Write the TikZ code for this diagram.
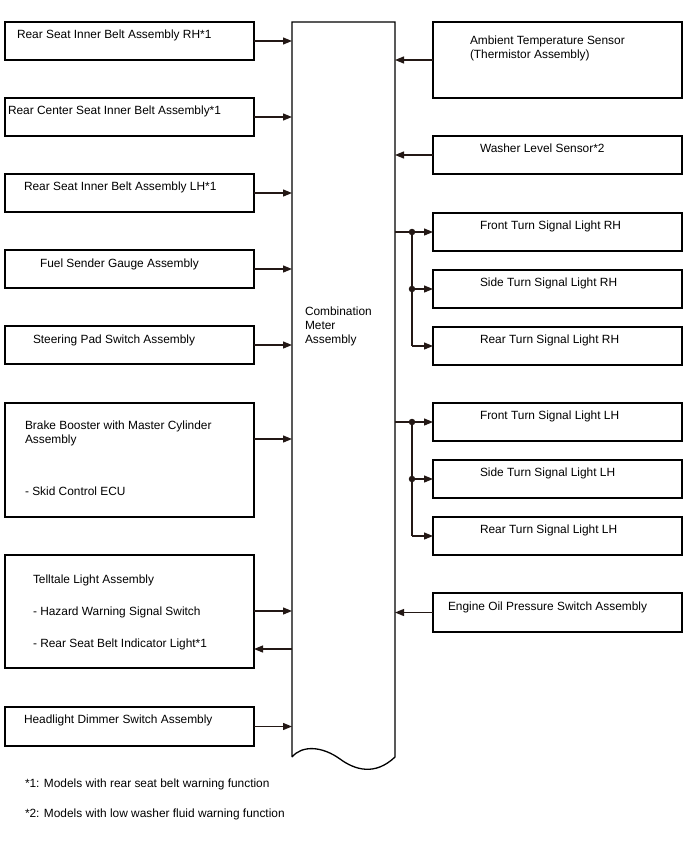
\documentclass[tikz,border=0pt]{standalone}
\usepackage{fontspec}
\setmainfont{Liberation Sans}
\usetikzlibrary{arrows.meta,calc}
\definecolor{ln}{HTML}{231815}
\tikzset{
  box/.style={draw=black, line width=1.3bp, anchor=north west, inner sep=0pt, outer sep=0pt},
  lbox/.style={box, minimum width=249bp},
  rbox/.style={box, minimum width=249bp},
  txt/.style={anchor=base west, inner sep=0pt, outer sep=0pt, font=\fontsize{11.9bp}{14bp}\selectfont},
  conn/.style={draw=ln, line width=1.2bp, -{Triangle[length=9bp,width=7bp]}},
  plain/.style={draw=ln, line width=1.2bp},
  dot/.style={circle, fill=ln, inner sep=0pt, minimum size=6.5bp}
}
\begin{document}
\begin{tikzpicture}[x=1bp,y=-1bp]
\useasboundingbox (0,0) rectangle (688,852);
% central box
\node[anchor=north west, minimum width=103bp, minimum height=735bp, inner sep=0pt, outer sep=0pt] (cm) at (292,22) {};
\draw[line width=1.3bp] (cm.south west) -- (cm.north west) -- (cm.north east) -- (cm.south east)
  .. controls (375,776) and (355,770) .. (340,759)
  .. controls (322,746) and (302,745) .. (cm.south west);
\node[txt] (cmt1) at (305,315) {Combination};
\node[txt] (cmt2) at (305,329) {Meter};
\node[txt] (cmt3) at (305,343) {Assembly};

% left boxes
\node[lbox, minimum height=38bp] (l1) at (5,22) {};
\node[txt] (l1t) at (17,38) {Rear Seat Inner Belt Assembly RH*1};
\node[lbox, minimum height=38bp] (l2) at (5,98) {};
\node[txt] (l2t) at (8,114) {Rear Center Seat Inner Belt Assembly*1};
\node[lbox, minimum height=38bp] (l3) at (5,174) {};
\node[txt] (l3t) at (24,190) {Rear Seat Inner Belt Assembly LH*1};
\node[lbox, minimum height=38bp] (l4) at (5,250) {};
\node[txt] (l4t) at (40,267) {Fuel Sender Gauge Assembly};
\node[lbox, minimum height=38bp] (l5) at (5,326) {};
\node[txt] (l5t) at (33,343) {Steering Pad Switch Assembly};
\node[lbox, minimum height=114bp] (l6) at (5,403) {};
\node[txt] (l6t1) at (25,429) {Brake Booster with Master Cylinder};
\node[txt] (l6t2) at (25,443) {Assembly};
\node[txt] (l6t3) at (25,495) {- Skid Control ECU};
\node[lbox, minimum height=113bp] (l7) at (5,555) {};
\node[txt] (l7t1) at (33,583) {Telltale Light Assembly};
\node[txt] (l7t2) at (33,615) {- Hazard Warning Signal Switch};
\node[txt] (l7t3) at (33,647) {- Rear Seat Belt Indicator Light*1};
\node[lbox, minimum height=39bp] (l8) at (5,707) {};
\node[txt] (l8t) at (24,723) {Headlight Dimmer Switch Assembly};

% right boxes
\node[rbox, minimum height=76bp] (r1) at (433,22) {};
\node[txt] (r1t1) at (470,44) {Ambient Temperature Sensor};
\node[txt] (r1t2) at (470,58) {(Thermistor Assembly)};
\node[rbox, minimum height=38bp] (r2) at (433,136) {};
\node[txt] (r2t) at (480,152) {Washer Level Sensor*2};
\node[rbox, minimum height=38bp] (r3) at (433,213) {};
\node[txt] (r3t) at (480,229) {Front Turn Signal Light RH};
\node[rbox, minimum height=38bp] (r4) at (433,270) {};
\node[txt] (r4t) at (480,286) {Side Turn Signal Light RH};
\node[rbox, minimum height=38bp] (r5) at (433,327) {};
\node[txt] (r5t) at (480,343) {Rear Turn Signal Light RH};
\node[rbox, minimum height=38bp] (r6) at (433,403) {};
\node[txt] (r6t) at (480,419) {Front Turn Signal Light LH};
\node[rbox, minimum height=38bp] (r7) at (433,460) {};
\node[txt] (r7t) at (480,476) {Side Turn Signal Light LH};
\node[rbox, minimum height=38bp] (r8) at (433,517) {};
\node[txt] (r8t) at (480,533) {Rear Turn Signal Light LH};
\node[rbox, minimum height=39bp] (r9) at (433,593) {};
\node[txt] (r9t) at (448,610) {Engine Oil Pressure Switch Assembly};

% left connectors
\draw[conn] (l1.east) -- (l1.east -| cm.west);
\draw[conn] (l2.east) -- (l2.east -| cm.west);
\draw[conn] (l3.east) -- (l3.east -| cm.west);
\draw[conn] (l4.east) -- (l4.east -| cm.west);
\draw[conn] (l5.east) -- (l5.east -| cm.west);
\coordinate (l6a) at ($(l6.north east)+(0,36)$);
\draw[conn] (l6a) -- (l6a -| cm.west);
\coordinate (l7a) at ($(l7.north east)+(0,56)$);
\coordinate (l7b) at ($(l7.north east)+(0,94)$);
\draw[conn] (l7a) -- (l7a -| cm.west);
\draw[conn] (l7b -| cm.west) -- (l7b);
\draw[conn] (l8.east) -- (l8.east -| cm.west);

% right connectors
\draw[conn] (r1.west) -- (r1.west -| cm.east);
\draw[conn] (r2.west) -- (r2.west -| cm.east);
\draw[conn] (r9.west) -- (r9.west -| cm.east);

\coordinate (jR) at (412,0);
\node[dot] (dR1) at (jR |- r3.west) {};
\node[dot] (dR2) at (jR |- r4.west) {};
\coordinate (cR) at (jR |- r5.west);
\draw[plain] (r3.west -| cm.east) -- (dR1.center);
\draw[conn] (dR1.center) -- (r3.west);
\draw[plain] (dR1.center) -- (cR);
\draw[conn] (dR2.center) -- (r4.west);
\draw[conn] (cR) -- (r5.west);

\node[dot] (dL1) at (jR |- r6.west) {};
\node[dot] (dL2) at (jR |- r7.west) {};
\coordinate (cL) at (jR |- r8.west);
\draw[plain] (r6.west -| cm.east) -- (dL1.center);
\draw[conn] (dL1.center) -- (r6.west);
\draw[plain] (dL1.center) -- (cL);
\draw[conn] (dL2.center) -- (r7.west);
\draw[conn] (cL) -- (r8.west);

% footnotes
\node[txt] (f1) at (25,787) {*1: Models with rear seat belt warning function};
\node[txt] (f2) at (25,817) {*2: Models with low washer fluid warning function};
\end{tikzpicture}
\end{document}
